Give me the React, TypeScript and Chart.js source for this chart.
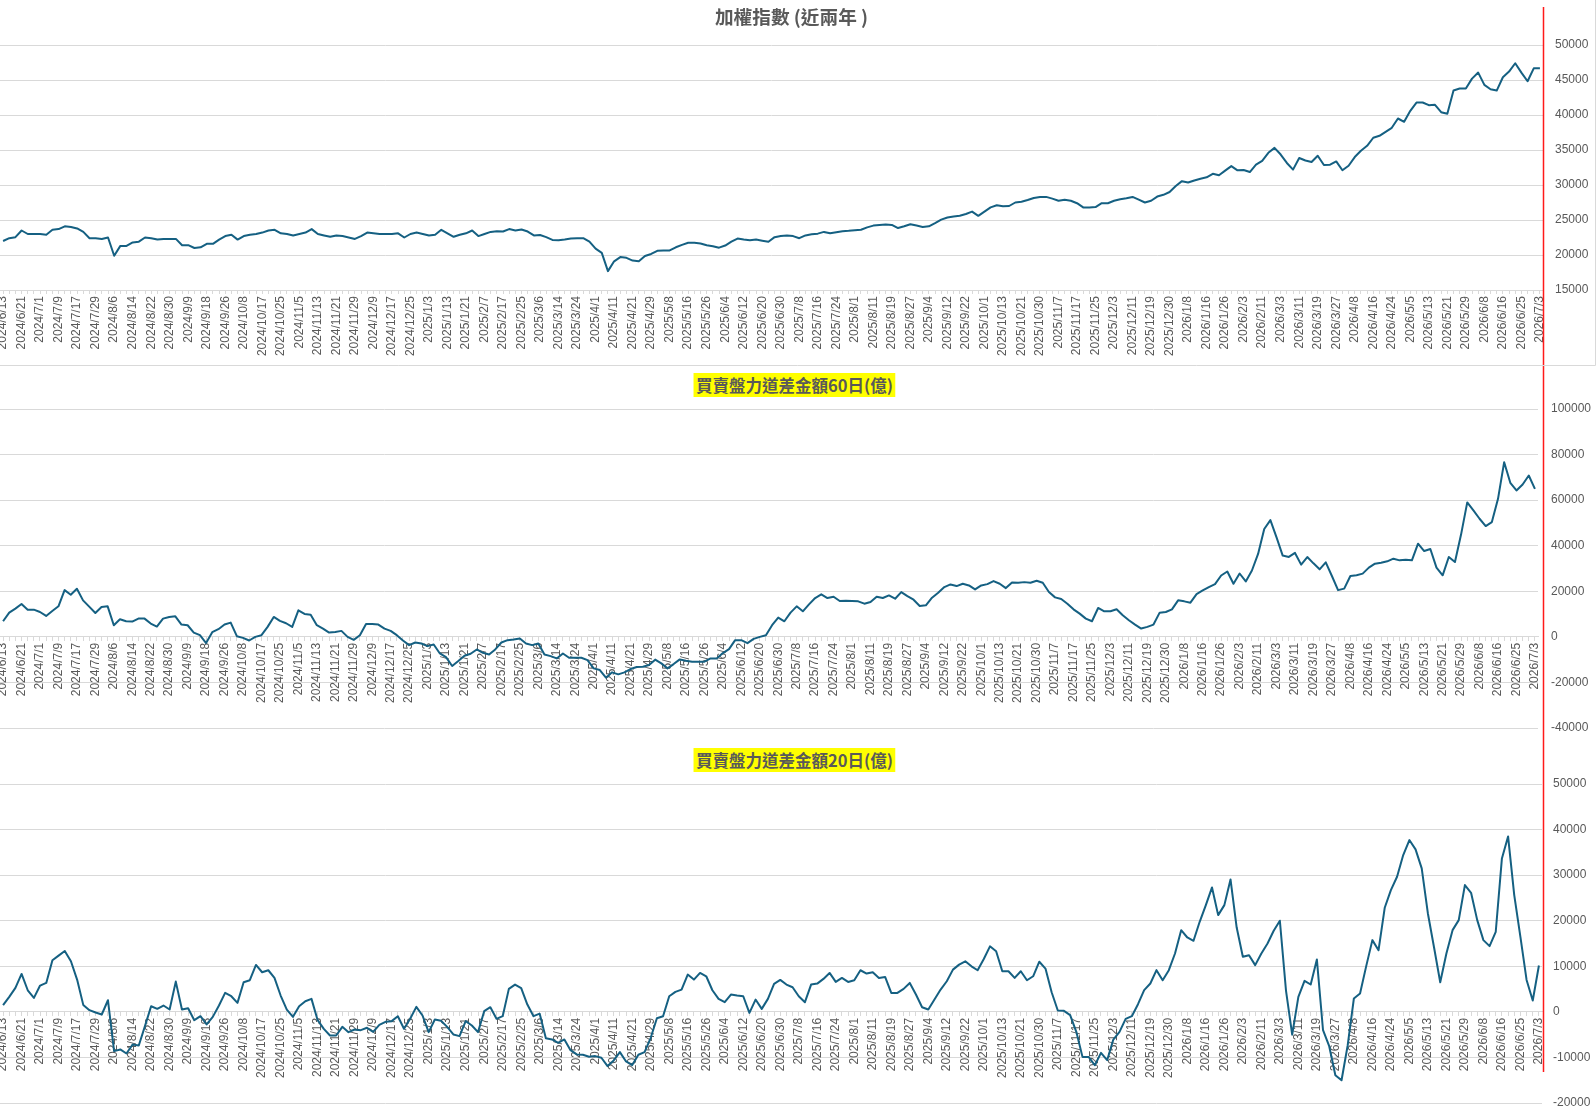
import { useEffect, useRef } from 'react'
import { Chart, registerables } from 'chart.js'
import type { Plugin } from 'chart.js'

Chart.register(...registerables)

// x-axis dates, one every 6 trading days
const dateLabels = [
  '2024/6/13', '2024/6/21', '2024/7/1', '2024/7/9', '2024/7/17', '2024/7/29', '2024/8/6', '2024/8/14',
  '2024/8/22', '2024/8/30', '2024/9/9', '2024/9/18', '2024/9/26', '2024/10/8', '2024/10/17', '2024/10/25',
  '2024/11/5', '2024/11/13', '2024/11/21', '2024/11/29', '2024/12/9', '2024/12/17', '2024/12/25', '2025/1/3',
  '2025/1/13', '2025/1/21', '2025/2/7', '2025/2/17', '2025/2/25', '2025/3/6', '2025/3/14', '2025/3/24',
  '2025/4/1', '2025/4/11', '2025/4/21', '2025/4/29', '2025/5/8', '2025/5/16', '2025/5/26', '2025/6/4',
  '2025/6/12', '2025/6/20', '2025/6/30', '2025/7/8', '2025/7/16', '2025/7/24', '2025/8/1', '2025/8/11',
  '2025/8/19', '2025/8/27', '2025/9/4', '2025/9/12', '2025/9/22', '2025/10/1', '2025/10/13', '2025/10/21',
  '2025/10/30', '2025/11/7', '2025/11/17', '2025/11/25', '2025/12/3', '2025/12/11', '2025/12/19', '2025/12/30',
  '2026/1/8', '2026/1/16', '2026/1/26', '2026/2/3', '2026/2/11', '2026/3/3', '2026/3/11', '2026/3/19',
  '2026/3/27', '2026/4/8', '2026/4/16', '2026/4/24', '2026/5/5', '2026/5/13', '2026/5/21', '2026/5/29',
  '2026/6/8', '2026/6/16', '2026/6/25', '2026/7/3'
]

// 加權指數, one value every 2 trading days
const taiex = [
  22000, 22400, 22550, 23500, 23000, 23000, 23000, 22900, 23600, 23700,
  24100, 24000, 23800, 23300, 22400, 22400, 22300, 22500, 19900, 21300,
  21300, 21800, 21900, 22500, 22400, 22200, 22300, 22300, 22300, 21400,
  21400, 21000, 21100, 21600, 21600, 22200, 22700, 22900, 22200, 22700,
  22900, 23000, 23200, 23500, 23600, 23100, 23000, 22800, 23000, 23200,
  23700, 23000, 22800, 22600, 22800, 22700, 22500, 22300, 22700, 23200,
  23100, 23000, 23000, 23000, 23100, 22500, 23000, 23200, 23000, 22800,
  22900, 23600, 23100, 22600, 22900, 23100, 23500, 22700, 23000, 23300,
  23400, 23350, 23700, 23500, 23650, 23350, 22800, 22850, 22550, 22150,
  22100, 22200, 22350, 22400, 22400, 21900, 20900, 20300, 17700, 19100,
  19700, 19600, 19200, 19100, 19850, 20150, 20600, 20650, 20650, 21100,
  21450, 21750, 21750, 21650, 21400, 21250, 21050, 21350, 21900, 22350,
  22200, 22100, 22200, 22050, 21900, 22550, 22700, 22800, 22700, 22400,
  22800, 22950, 23050, 23300, 23100, 23250, 23400, 23450, 23550, 23600,
  23950, 24200, 24300, 24350, 24300, 23850, 24100, 24400, 24200, 24000,
  24100, 24550, 25050, 25350, 25500, 25600, 25850, 26200, 25600, 26200,
  26800, 27100, 26950, 27000, 27500, 27600, 27850, 28150, 28300, 28300,
  28050, 27750, 27900, 27750, 27400, 26800, 26800, 26850, 27400, 27400,
  27750, 27950, 28100, 28300, 27900, 27500, 27750, 28350, 28600, 29000,
  29850, 30550, 30350, 30650, 30900, 31100, 31600, 31400, 32050, 32700,
  32100, 32150, 31850, 32900, 33450, 34600, 35300, 34350, 33150, 32200,
  33850, 33500, 33280, 34180, 32850, 32900, 33370, 32100, 32750, 33990,
  34900, 35600, 36750, 37030, 37600, 38170, 39500, 39030, 40600, 41780,
  41780, 41400, 41450, 40400, 40170, 43500, 43780, 43780, 45200, 46060,
  44300, 43680, 43490, 45390, 46200, 47390, 46060, 44820, 46670, 46670
]

// 買賣盤力道差金額 60日 (億)
const net60 = [
  6840, 10630, 12380, 14400, 11940, 11940, 10920, 9170, 11360, 13400,
  20500, 18500, 21110, 16020, 13250, 10480, 13100, 13400, 5100, 7720,
  6840, 6700, 8010, 8010, 5820, 4510, 8010, 8740, 9030, 5390,
  5100, 1890, 730, -2700, 2040, 3350, 5390, 6260, 290, -440,
  -1600, 0, 730, 4370, 8740, 6990, 5970, 4370, 11650, 10050,
  9750, 5100, 3640, 1890, 2180, 2620, 0, -1310, 730, 5680,
  5680, 5390, 3640, 2620, 730, -1600, -3640, -2480, -2910, -4080,
  -3350, -7280, -8880, -12810, -10630, -8300, -7420, -5530, -6990, -7720,
  -5530, -2480, -1460, -1160, -730, -2910, -3640, -2910, -7720, -8450,
  -9460, -7280, -9170, -9170, -9170, -10190, -13830, -14560, -17910, -15580,
  -16450, -15580, -14120, -13250, -13100, -12380, -10000, -11650, -13830, -11940,
  -9900, -10480, -10920, -10920, -10920, -9460, -9460, -7130, -5390, -1460,
  -1460, -2770, -870, 0, 730, 5100, 8450, 6840, 10630, 13400,
  11210, 14270, 17040, 18640, 17040, 17620, 15730, 15870, 15730, 15580,
  14560, 15290, 17620, 17040, 18200, 16740, 19660, 17910, 16310, 13540,
  13830, 17180, 19370, 21840, 23000, 22280, 23300, 22570, 20820, 22570,
  23150, 24460, 23300, 21400, 23880, 23730, 24020, 23730, 24600, 23730,
  19660, 17330, 16600, 14560, 12090, 10190, 8010, 6840, 12670, 11210,
  11210, 12090, 9460, 7280, 5390, 3640, 4370, 5390, 10630, 10920,
  12090, 16020, 15580, 15000, 18780, 20380, 21840, 23150, 26940, 28680,
  23300, 27810, 24310, 29120, 36400, 47320, 51250, 43680, 35670, 35090,
  36840, 31700, 35040, 32270, 29640, 32700, 26720, 20500, 21170, 26720,
  27010, 27740, 30370, 32120, 32560, 33140, 34310, 33580, 33870, 33580,
  40880, 37670, 38540, 30370, 27010, 35040, 32850, 45000, 59000, 55480,
  51830, 48620, 50370, 60590, 76650, 67600, 64240, 66870, 70810, 64970
]

// 買賣盤力道差金額 20日 (億)
const net20 = [
  1460, 3290, 5260, 8320, 4740, 3070, 5770, 6350, 11320, 12340,
  13360, 11100, 7080, 1530, 370, -150, -580, 2550, -8610, -8250,
  -9130, -7150, -7370, -3140, 1240, 660, 1390, 510, 6640, 510,
  800, -1830, -950, -2770, -1100, 1390, 4160, 3430, 1970, 6500,
  6940, 10300, 8690, 9130, 7450, 3580, 510, -1100, 1240, 2340,
  2850, -1830, -3720, -5180, -5180, -3290, -4450, -3870, -4020, -3500,
  -4380, -2850, -2190, -2040, -950, -3720, -1530, 1100, -800, -4450,
  -1680, -1970, -3290, -4960, -5330, -2040, -2990, -4450, 150, 1020,
  -1530, -950, 5040, 5990, 5200, 1600, -950, -400, -5770, -6060,
  -6790, -6060, -8400, -9340, -9420, -9860, -9710, -10070, -11900, -10660,
  -8830, -10880, -11680, -9420, -8830, -5690, -1390, -950, 3430, 4380,
  4890, 8180, 7080, 8540, 7810, 4740, 2850, 2120, 3800, 3580,
  3430, -220, 2700, 660, 2850, 6130, 7010, 5990, 5400, 3430,
  2120, 5990, 6200, 7230, 8540, 6570, 7450, 6570, 6940, 9130,
  8400, 8690, 7450, 7670, 4160, 4160, 5040, 6350, 3800, 1020,
  510, 2700, 4890, 6720, 9270, 10370, 11100, 10000, 9130, 11610,
  14380, 13290, 8900, 8900, 7450, 8900, 6940, 7810, 11000, 9500,
  4300, 300, 220, -730, -4390, -9880, -9880, -11710, -9000, -10610,
  -6070, -4390, -1540, -950, 1680, 4760, 6220, 9150, 6950, 9150,
  12810, 17930, 16320, 15590, 19760, 23420, 27300, 21230, 23420, 29060,
  18500, 12080, 12440, 10250, 12810, 15010, 17790, 20000, 4610, -5000,
  3290, 6810, 6000, 11500, -4030, -7540, -13910, -15010, -7320, 2930,
  4030, 10030, 15740, 13540, 22840, 26720, 29650, 34400, 37700, 35650,
  31480, 21590, 14130, 6500, 12810, 17930, 20130, 27820, 26130, 20130,
  15740, 14420, 17570, 33670, 38500, 25620, 16470, 7000, 2500, 10180
]

// every third category carries a date, the others stay blank
const categories = taiex.map((_, i) => (i % 3 === 0 ? dateLabels[i / 3] : ''))

const textColor = '#595959'
const gridColor = '#d9d9d9'
const lineColor = '#156082'
const tickFont = { family: '"Liberation Sans", Arial, sans-serif', size: 12 }

// red vertical marker running down all three charts
const markerLine: Plugin<'line'> = {
  id: 'markerLine',
  afterDraw(chart, _args, opts: any) {
    const { ctx } = chart
    ctx.save()
    ctx.strokeStyle = '#ff1a1a'
    ctx.lineWidth = 1.5
    ctx.beginPath()
    ctx.moveTo(opts.x, opts.top)
    ctx.lineTo(opts.x, opts.bottom)
    ctx.stroke()
    ctx.restore()
  }
}

// thin border on the right and bottom of the first chart
const frameLines: Plugin<'line'> = {
  id: 'frameLines',
  afterDraw(chart, _args, opts: any) {
    if (!opts.show) return
    const { ctx, width, height } = chart
    ctx.save()
    ctx.strokeStyle = gridColor
    ctx.lineWidth = 1
    ctx.beginPath()
    ctx.moveTo(0, height - 0.5)
    ctx.lineTo(width - 0.5, height - 0.5)
    ctx.lineTo(width - 0.5, 0)
    ctx.stroke()
    ctx.restore()
  }
}

interface PanelProps {
  top: number
  height: number
  title: string
  highlight?: boolean
  titleTop: number
  titleX: number
  titleSize: number
  values: number[]
  yMin: number
  yMax: number
  yStep: number
  atZero?: boolean
  padTop: number
  padBottom: number
  xHeight?: number
  plotRight: number
  labelGap: number
  markTop: number
  markBottom: number
  frame?: boolean
}

function Panel(p: PanelProps) {
  const canvasRef = useRef<HTMLCanvasElement>(null)

  useEffect(() => {
    if (!canvasRef.current) return
    const chart = new Chart(canvasRef.current, {
      type: 'line',
      data: {
        labels: categories,
        datasets: [
          {
            data: p.values,
            borderColor: lineColor,
            borderWidth: 2,
            borderJoinStyle: 'round',
            pointRadius: 0,
            pointHoverRadius: 0,
            tension: 0,
            fill: false
          }
        ]
      },
      options: {
        animation: false,
        responsive: true,
        maintainAspectRatio: false,
        events: [],
        layout: { padding: { left: 0, right: 0, top: p.padTop, bottom: p.padBottom } },
        plugins: {
          legend: { display: false },
          tooltip: { enabled: false },
          markerLine: { x: 1543.5, top: p.markTop, bottom: p.markBottom },
          frameLines: { show: !!p.frame }
        } as any,
        scales: {
          x: {
            type: 'category',
            position: p.atZero ? ({ y: 0 } as any) : 'bottom',
            offset: true,
            grid: { drawOnChartArea: false, drawTicks: true, tickLength: 4, color: gridColor },
            border: { display: true, color: gridColor },
            ticks: {
              autoSkip: false,
              minRotation: 90,
              maxRotation: 90,
              padding: 2,
              color: textColor,
              font: tickFont
            },
            afterFit(scale: any) {
              scale.paddingLeft = 0
              scale.paddingRight = 0
              if (p.xHeight) scale.height = p.xHeight
            }
          },
          y: {
            position: 'right',
            min: p.yMin,
            max: p.yMax,
            grid: { color: gridColor, drawTicks: false },
            border: { display: false },
            ticks: {
              stepSize: p.yStep,
              padding: p.labelGap,
              color: textColor,
              font: tickFont,
              callback: (v) => String(v)
            },
            afterFit(scale: any) {
              scale.width = 1596 - p.plotRight
              scale.paddingTop = 0
              scale.paddingBottom = 0
            }
          }
        }
      },
      plugins: [markerLine, frameLines]
    })

    return () => {
      chart.destroy()
    }
  }, [])

  return (
    <div style={{ position: 'absolute', left: 0, top: p.top, width: 1596, height: p.height }}>
      <canvas ref={canvasRef}></canvas>
      <div
        style={{
          position: 'absolute',
          top: p.titleTop,
          left: p.titleX,
          transform: 'translateX(-50%)',
          whiteSpace: 'nowrap',
          fontFamily: '"Noto Sans CJK TC", "Noto Sans CJK SC", sans-serif',
          fontWeight: 'bold',
          fontSize: p.titleSize,
          lineHeight: p.highlight ? '24px' : '22px',
          color: textColor,
          background: p.highlight ? '#ffff00' : 'transparent',
          padding: p.highlight ? '0 3px' : 0
        }}
      >
        {p.title}
      </div>
    </div>
  )
}

export default function App() {
  return (
    <div style={{ position: 'absolute', left: 0, top: 0, width: 1596, height: 1115, background: '#fff', overflow: 'hidden' }}>
      <Panel
        top={0}
        height={366}
        title="加權指數 (近兩年 )"
        titleTop={5}
        titleX={791.5}
        titleSize={18.67}
        values={taiex}
        yMin={15000}
        yMax={50000}
        yStep={5000}
        padTop={45}
        padBottom={0}
        xHeight={76}
        plotRight={1543}
        labelGap={12}
        markTop={7}
        markBottom={366}
        frame
      />
      <Panel
        top={366}
        height={372}
        title="買賣盤力道差金額60日(億)"
        highlight
        titleTop={7}
        titleX={794.5}
        titleSize={16.5}
        values={net60}
        yMin={-40000}
        yMax={100000}
        yStep={20000}
        atZero
        padTop={43}
        padBottom={10}
        plotRight={1538}
        labelGap={13}
        markTop={0}
        markBottom={372}
      />
      <Panel
        top={738}
        height={377}
        title="買賣盤力道差金額20日(億)"
        highlight
        titleTop={10}
        titleX={794.5}
        titleSize={16.5}
        values={net20}
        yMin={-20000}
        yMax={50000}
        yStep={10000}
        atZero
        padTop={46}
        padBottom={12}
        plotRight={1542}
        labelGap={11}
        markTop={0}
        markBottom={334}
      />
    </div>
  )
}
